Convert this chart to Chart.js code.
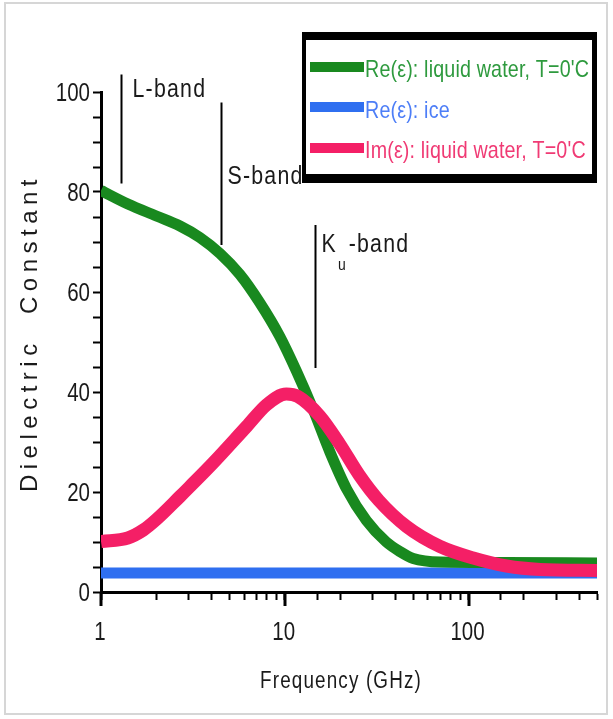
<!DOCTYPE html>
<html>
<head>
<meta charset="utf-8">
<script src="https://cdn.jsdelivr.net/npm/chart.js@4/dist/chart.umd.min.js"></script>
<style>
  html, body { margin: 0; padding: 0; background: #fff; }
  #wrap { width: 613px; height: 719px; }
</style>
</head>
<body>
<div id="wrap"><canvas id="chart" width="613" height="719"></canvas></div>
<script>
// Re(eps) of liquid water, frequencies in GHz
const reWaterFreq = [1, 1.4, 2, 2.69, 3.45, 4.44, 5.7, 7.3, 9.4, 11.6, 14.3, 17.6, 21.7, 27.8, 35.7, 42.3, 50, 70, 160, 500];
const reWater = [80.3, 77.6, 75.2, 73.2, 70.9, 67.7, 63.5, 57.9, 51.1, 44.1, 36.4, 28.0, 20.6, 14.3, 10.0, 8.1, 6.7, 6.0, 5.9, 5.8];

// Im(eps) of liquid water
const imWaterFreq = [1, 1.4, 1.7, 2, 2.69, 3.03, 4.07, 6.2, 8.0, 10.2, 11.8, 15.5, 19.9, 25.4, 32.5, 46, 70, 106, 161, 245, 500];
const imWater = [10.1, 10.8, 12.4, 14.5, 19.1, 21.0, 25.8, 33.1, 37.5, 39.6, 39.1, 35.2, 29.6, 23.4, 18.3, 13.1, 9.1, 6.8, 5.2, 4.5, 4.3];

// Re(eps) of ice
const iceFreq = [1, 500];
const reIce = [3.8, 3.8];

const seriesNames = ["Re(\u03b5): liquid water, T=0'C", "Re(\u03b5): ice", "Im(\u03b5): liquid water, T=0'C"];
const xTickLabels = [1, 10, 100];
const yTickLabels = [0, 20, 40, 60, 80, 100];

// band markers: frequency and vertical extent (dielectric units)
const bandMain = ['L', 'S', 'K'];
const bandSub = ['', '', 'u'];
const bandFreq = [1.29, 4.5, 14.6];
const bandTop = [103.5, 97.9, 73.4];
const bandBottom = [81.7, 69.4, 44.8];

const FONT = "'Liberation Sans', Arial, sans-serif";
const NARROW = 0.82;
const colors = ['#19891f', '#2f6ff0', '#f41f66'];
const textColors = ['#2e9a3e', '#4d7ef7', '#f03a74'];

function pts(xs, ys) {
	return xs.map((x, i) => ({ x: x, y: ys[i] }));
}

// condensed text: squeeze horizontally around the anchor point
function narrowText(ctx, text, x, y, size, align, spacing) {
	ctx.save();
	ctx.font = size + 'px ' + FONT;
	ctx.letterSpacing = (spacing || 0) + 'px';
	ctx.textAlign = align || 'left';
	ctx.textBaseline = 'alphabetic';
	ctx.translate(x, y);
	ctx.scale(NARROW, 1);
	ctx.fillText(text, 0, 0);
	const w = ctx.measureText(text).width * NARROW;
	ctx.restore();
	return w;
}

// frame, tick labels, titles, band markers and legend
const decorations = {
	id: 'decorations',
	beforeDraw(chart) {
		const ctx = chart.ctx;
		ctx.save();
		ctx.fillStyle = '#fff';
		ctx.fillRect(0, 0, chart.width, chart.height);
		ctx.strokeStyle = '#d6d6d6';
		ctx.lineWidth = 2;
		ctx.strokeRect(5, 3, 602, 711);
		ctx.restore();
	},
	afterDraw(chart) {
		const ctx = chart.ctx;
		const xs = chart.scales.x, ys = chart.scales.y;
		const area = chart.chartArea;
		ctx.save();

		// long major ticks on the frequency axis
		ctx.strokeStyle = '#000';
		ctx.lineWidth = 3;
		xTickLabels.forEach(v => {
			const px = Math.round(xs.getPixelForValue(v));
			ctx.beginPath();
			ctx.moveTo(px, area.bottom);
			ctx.lineTo(px, area.bottom + 14);
			ctx.stroke();
		});

		// tick labels
		ctx.fillStyle = '#1a1a1a';
		xTickLabels.forEach(v => {
			narrowText(ctx, String(v), xs.getPixelForValue(v) - 1, 640, 25, 'center');
		});
		yTickLabels.forEach(v => {
			narrowText(ctx, String(v), area.left - 11, ys.getPixelForValue(v) + 9, 25, 'right');
		});

		// band markers
		ctx.lineWidth = 2;
		const baselines = [97, 184, 252];
		bandFreq.forEach((f, i) => {
			const px = Math.round(xs.getPixelForValue(f)) + 0.5;
			ctx.beginPath();
			ctx.moveTo(px, ys.getPixelForValue(bandTop[i]));
			ctx.lineTo(px, ys.getPixelForValue(bandBottom[i]));
			ctx.stroke();
			let tx = px + (i === 0 ? 11 : 6);
			tx += narrowText(ctx, bandMain[i], tx, baselines[i], 26, 'left', 1.5);
			if (bandSub[i]) {
				tx += narrowText(ctx, bandSub[i], tx + 1, baselines[i] + 18, 17, 'left') + 4;
			}
			narrowText(ctx, '-band', tx, baselines[i], 26, 'left', 1.5);
		});

		// axis titles
		narrowText(ctx, 'Frequency (GHz)', 341, 688, 23, 'center', 1.4);

		ctx.save();
		ctx.translate(37, 333);
		ctx.rotate(-Math.PI / 2);
		ctx.font = '24px ' + FONT;
		ctx.letterSpacing = '5.5px';
		ctx.textAlign = 'center';
		ctx.textBaseline = 'alphabetic';
		ctx.fillText('Dielectric  Constant', 0, 0);
		ctx.restore();

		// legend box
		ctx.fillStyle = '#000';
		ctx.fillRect(302, 32, 295, 151);
		ctx.fillStyle = '#fff';
		ctx.fillRect(306, 40, 286, 134);
		const rows = [67, 107, 148];
		const baseRows = [77, 118, 158];
		seriesNames.forEach((name, i) => {
			ctx.strokeStyle = colors[i];
			ctx.lineWidth = 10;
			ctx.beginPath();
			ctx.moveTo(310, rows[i]);
			ctx.lineTo(364, rows[i]);
			ctx.stroke();
			ctx.fillStyle = textColors[i];
			narrowText(ctx, name, 365, baseRows[i], 24, 'left', 0.2);
		});
		ctx.restore();
	}
};

new Chart(document.getElementById('chart'), {
	type: 'line',
	data: {
		datasets: [
			{ label: seriesNames[0], data: pts(reWaterFreq, reWater), borderColor: colors[0], borderWidth: 11, order: 2 },
			{ label: seriesNames[1], data: pts(iceFreq, reIce), borderColor: colors[1], borderWidth: 11, order: 3 },
			{ label: seriesNames[2], data: pts(imWaterFreq, imWater), borderColor: colors[2], borderWidth: 13, order: 1 }
		]
	},
	options: {
		responsive: false,
		devicePixelRatio: 1,
		animation: false,
		elements: {
			point: { radius: 0 },
			line: { cubicInterpolationMode: 'monotone', borderCapStyle: 'butt', borderJoinStyle: 'round', fill: false }
		},
		layout: { padding: { left: 0, top: 92, right: 16, bottom: 0 } },
		plugins: { legend: { display: false }, tooltip: { enabled: false } },
		scales: {
			x: {
				type: 'logarithmic',
				min: 1,
				max: 500,
				afterFit(scale) { scale.height = 127; },
				border: { display: true, color: '#000', width: 3 },
				grid: { drawOnChartArea: false, tickLength: 8, tickWidth: 2, tickColor: '#000' },
				ticks: { display: false, autoSkip: false }
			},
			y: {
				min: 0,
				max: 100,
				afterFit(scale) { scale.width = 101; },
				border: { display: true, color: '#000', width: 3 },
				grid: { drawOnChartArea: false, tickLength: 8, tickWidth: 2, tickColor: '#000' },
				ticks: { display: false, stepSize: 5, autoSkip: false }
			}
		}
	},
	plugins: [decorations]
});
</script>
</body>
</html>
